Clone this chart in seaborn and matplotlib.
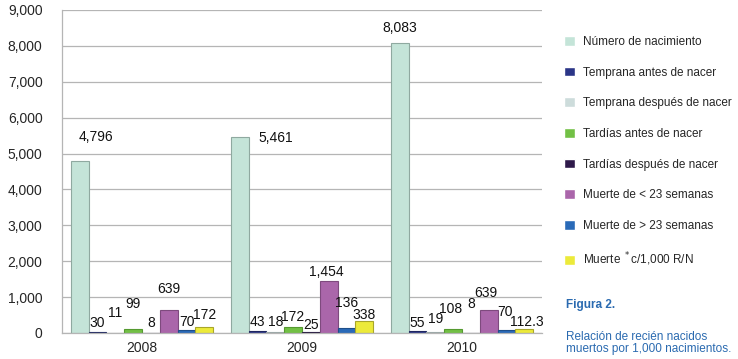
"""
Relación de recién nacidos muertos por 1,000 nacimientos (Figura 2)
"""

import pandas as pd
import numpy as np
import matplotlib.pyplot as plt
import seaborn as sns
from matplotlib.ticker import FixedLocator

sns.set_style("white")
plt.rcParams['font.family'] = ['Liberation Sans', 'DejaVu Sans']

# Data
years = ['2008', '2009', '2010']
categories = [
    'Número de nacimiento',
    'Temprana antes de nacer',
    'Temprana después de nacer',
    'Tardías antes de nacer',
    'Tardías después de nacer',
    'Muerte de < 23 semanas',
    'Muerte de > 23 semanas',
    'Muerte $^*$c/1,000 R/N',
]
nacimientos = [4796, 5461, 8083]
temprana_antes = [30, 43, 55]
temprana_despues = [11, 18, 19]
tardias_antes = [99, 172, 108]
tardias_despues = [8, 25, 8]
muerte_menor23 = [639, 1454, 639]
muerte_mayor23 = [70, 136, 70]
muerte_por_mil = [172, 338, 112.3]
value_labels = [
    ['4,796', '5,461', '8,083'],
    ['30', '43', '55'],
    ['11', '18', '19'],
    ['99', '172', '108'],
    ['8', '25', '8'],
    ['639', '1,454', '639'],
    ['70', '136', '70'],
    ['172', '338', '112.3'],
]

series = [nacimientos, temprana_antes, temprana_despues, tardias_antes,
          tardias_despues, muerte_menor23, muerte_mayor23, muerte_por_mil]

colors = ['#c4e4d8', '#2b3587', '#cddcdb', '#72c045',
          '#2e1a4a', '#aa66aa', '#2a6ab8', '#ecea3a']
edges = ['#8fa9a0', '#1e2560', '#9aa8a7', '#559a30',
         '#20123a', '#7e4a7e', '#1f4f8a', '#a8a62a']

# label offsets (pixels) relative to bar top, one per bar
label_dx = [[16, 36, 0], [0, 0, 0], [0, 0, 0], [0, 0, -3],
            [0, 0, 0], [0, -2, -3], [0, 0, -2], [0, 0, 3]]
label_dy = [[24, -1, 15], [9, 9, 8], [20, 10, 13], [25, 10, 20],
            [10, 7, 29], [21, 9, 17], [8, 25, 18], [12, 6, 7]]

rows = []
for cat, vals in zip(categories, series):
    for yr, v in zip(years, vals):
        rows.append({'Año': yr, 'Categoria': cat, 'Valor': v})
df = pd.DataFrame(rows)

fig = plt.figure(figsize=(7.38, 3.59), dpi=100)
ax = fig.add_axes([62 / 738, 1 - 333 / 359, 480 / 738, 323 / 359])

sns.barplot(data=df, x='Año', y='Valor', hue='Categoria', order=years,
            hue_order=categories, palette=colors, width=0.89, gap=0,
            ax=ax, saturation=1, errorbar=None)

for i, cont in enumerate(ax.containers):
    for j, bar in enumerate(cont):
        bar.set_edgecolor(edges[i])
        bar.set_linewidth(0.8)
        ax.annotate(value_labels[i][j],
                    (bar.get_x() + bar.get_width() / 2, bar.get_height()),
                    xytext=(label_dx[i][j], label_dy[i][j]),
                    textcoords='offset pixels', ha='center', va='center',
                    fontsize=10, color='#111111')

ax.set_ylim(0, 9000)
ax.set_xlim(-0.5, 2.5)
ax.set_yticks(np.arange(0, 9001, 1000))
ax.set_yticklabels([f'{v:,}' for v in range(0, 9001, 1000)], fontsize=10)
ax.yaxis.grid(True, color='#b5b5b5', linewidth=0.9)
ax.set_axisbelow(True)
ax.tick_params(axis='y', length=4, color='#b5b5b5', pad=10)
ax.tick_params(axis='x', which='major', length=0, labelsize=10, pad=6)
ax.xaxis.set_minor_locator(FixedLocator([-0.5, 0.5, 1.5, 2.5]))
ax.tick_params(axis='x', which='minor', length=4, color='#b5b5b5')
ax.set_xlabel('')
ax.set_ylabel('')
for side in ['top', 'right']:
    ax.spines[side].set_visible(False)
for side in ['left', 'bottom']:
    ax.spines[side].set_color('#b5b5b5')
    ax.spines[side].set_linewidth(0.9)

handles, labels = ax.get_legend_handles_labels()
ax.legend_.remove()
fig.legend(handles, labels, loc='upper left', bbox_to_anchor=(564 / 738, 1 - 36 / 359),
           frameon=False, handlelength=0.9, handleheight=0.9,
           handletextpad=0.7, labelspacing=1.58, borderaxespad=0, borderpad=0,
           prop={'family': ['Liberation Sans', 'DejaVu Sans'], 'size': 8.5})

fig.text(566 / 738, 1 - 305 / 359, 'Figura 2.', color='#2a6ab0', fontsize=8.5,
         fontweight='bold', va='center', ha='left')
fig.text(566 / 738, 1 - 343 / 359, 'Relación de recién nacidos\nmuertos por 1,000 nacimientos.',
         color='#2a6ab0', fontsize=8.5, va='center', ha='left', linespacing=1.1)

fig.savefig('out.png', dpi=100)
